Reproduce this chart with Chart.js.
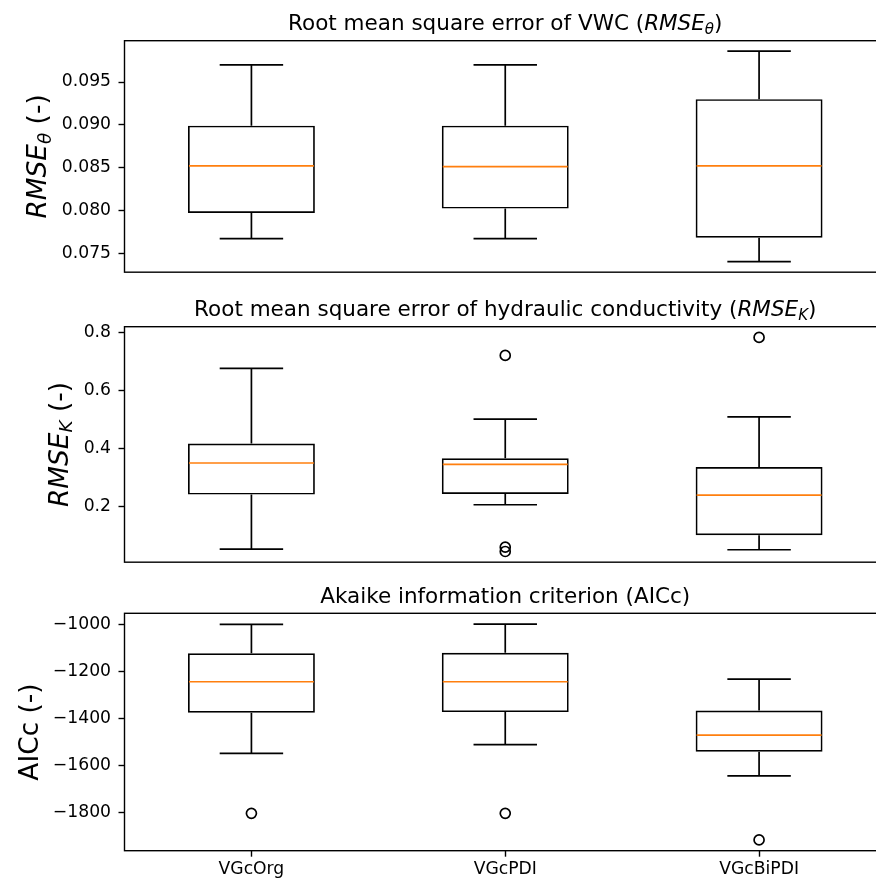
<!DOCTYPE html>
<html>
<head>
<meta charset="utf-8">
<script src="https://cdn.jsdelivr.net/npm/chart.js@4.4.1/dist/chart.umd.min.js"></script>
<style>
  html, body { margin: 0; padding: 0; background: #fff; overflow: hidden; width: 876px; height: 879px; }
  canvas { position: absolute; left: 0; }
</style>
</head>
<body>
<canvas id="c1" width="900" height="290" style="top:0"></canvas>
<canvas id="c2" width="900" height="290" style="top:290px"></canvas>
<canvas id="c3" width="900" height="299" style="top:580px"></canvas>
<script>
const models = ['VGcOrg', 'VGcPDI', 'VGcBiPDI'];

// RMSE of VWC
const thLow  = [0.0767, 0.0767, 0.0740];
const thQ1   = [0.0797, 0.0802, 0.0768];
const thMed  = [0.0852, 0.0851, 0.0852];
const thQ3   = [0.0899, 0.0899, 0.0930];
const thHigh = [0.0970, 0.0970, 0.0986];
const thOut  = [[], [], []];
const thTicks = [0.075, 0.080, 0.085, 0.090, 0.095];

// RMSE of hydraulic conductivity
const kLow  = [0.053, 0.206, 0.051];
const kQ1   = [0.241, 0.243, 0.101];
const kMed  = [0.350, 0.345, 0.239];
const kQ3   = [0.417, 0.366, 0.336];
const kHigh = [0.676, 0.501, 0.509];
const kOut  = [[], [0.721, 0.060, 0.045], [0.783]];
const kTicks = [0.2, 0.4, 0.6, 0.8];

// AICc
const aLow  = [-1548, -1511, -1644];
const aQ1   = [-1376, -1373, -1541];
const aMed  = [-1244, -1244, -1471];
const aQ3   = [-1123, -1121, -1366];
const aHigh = [-1000, -999, -1233];
const aOut  = [[-1803], [-1803], [-1916]];
const aTicks = [-1800, -1600, -1400, -1200, -1000];

const FONT = '"DejaVu Sans", sans-serif';
const TITLE_SIZE = 21.5;
const YLABEL_SIZE = 26.4;

function partFont(p, size) {
  const s = p.sub ? size * 0.7 : size;
  return (p.it ? 'italic ' : '') + s + 'px ' + FONT;
}
function partsWidth(ctx, parts, size) {
  let w = 0;
  parts.forEach(p => { ctx.font = partFont(p, size); w += ctx.measureText(p.t).width; });
  return w;
}
function drawParts(ctx, parts, size, x, y) {
  parts.forEach(p => {
    ctx.font = partFont(p, size);
    ctx.fillText(p.t, x, y + (p.sub ? size * 0.18 : 0));
    x += ctx.measureText(p.t).width;
  });
}

const boxPlugin = {
  id: 'boxparts',
  afterDatasetsDraw(chart, args, o) {
    const ctx = chart.ctx, xs = chart.scales.x, ys = chart.scales.y;
    const bars = chart.getDatasetMeta(0).data;
    ctx.save();
    ctx.lineWidth = 1.7;
    o.low.forEach((lo, i) => {
      const x = xs.getPixelForValue(i);
      const half = bars[i].width / 2;
      ctx.strokeStyle = '#000';
      ctx.beginPath();
      ctx.moveTo(x, ys.getPixelForValue(o.q1[i]));
      ctx.lineTo(x, ys.getPixelForValue(lo));
      ctx.moveTo(x, ys.getPixelForValue(o.q3[i]));
      ctx.lineTo(x, ys.getPixelForValue(o.high[i]));
      ctx.moveTo(x - half / 2, ys.getPixelForValue(lo));
      ctx.lineTo(x + half / 2, ys.getPixelForValue(lo));
      ctx.moveTo(x - half / 2, ys.getPixelForValue(o.high[i]));
      ctx.lineTo(x + half / 2, ys.getPixelForValue(o.high[i]));
      ctx.stroke();
      ctx.strokeStyle = '#ff7f0e';
      ctx.beginPath();
      ctx.moveTo(x - half + 1, ys.getPixelForValue(o.med[i]));
      ctx.lineTo(x + half - 1, ys.getPixelForValue(o.med[i]));
      ctx.stroke();
    });
    ctx.restore();
  },
  afterDraw(chart, args, o) {
    const ctx = chart.ctx, a = chart.chartArea;
    ctx.save();
    ctx.strokeStyle = '#000';
    ctx.lineWidth = 1.4;
    ctx.strokeRect(a.left, a.top, a.right - a.left, a.bottom - a.top);
    ctx.fillStyle = '#000';
    ctx.textBaseline = 'alphabetic';
    ctx.textAlign = 'left';
    const tw = partsWidth(ctx, o.title, TITLE_SIZE);
    drawParts(ctx, o.title, TITLE_SIZE, (a.left + a.right) / 2 - tw / 2, a.top - 10.8);
    const lw = partsWidth(ctx, o.ylabel, YLABEL_SIZE);
    ctx.translate(o.ylabelX, (a.top + a.bottom) / 2);
    ctx.rotate(-Math.PI / 2);
    drawParts(ctx, o.ylabel, YLABEL_SIZE, -lw / 2, 0);
    ctx.restore();
  }
};

function makePanel(id, d) {
  const all = d.low.concat(d.high, d.out.flat());
  const lo = Math.min(...all), hi = Math.max(...all);
  const m = (hi - lo) * 0.05;
  const outPts = [];
  d.out.forEach((arr, i) => arr.forEach(v => outPts.push({ x: models[i], y: v })));
  const tickFont = { family: FONT, size: 17.2 };
  return new Chart(document.getElementById(id), {
    type: 'bar',
    data: {
      labels: models,
      datasets: [{
        data: d.q1.map((q, i) => [q, d.q3[i]]),
        backgroundColor: 'rgba(255,255,255,0)',
        borderColor: '#000',
        borderWidth: 1.7,
        borderSkipped: false,
        barPercentage: 0.5,
        categoryPercentage: 1
      }, {
        type: 'line',
        data: outPts,
        showLine: false,
        pointRadius: 5,
        pointBorderWidth: 1.7,
        pointBorderColor: '#000',
        pointBackgroundColor: 'rgba(0,0,0,0)'
      }]
    },
    options: {
      responsive: false,
      animation: false,
      layout: { padding: d.pad },
      plugins: {
        legend: { display: false },
        tooltip: { enabled: false },
        boxparts: { low: d.low, q1: d.q1, med: d.med, q3: d.q3, high: d.high,
                    title: d.title, ylabel: d.ylabel, ylabelX: d.ylabelX }
      },
      scales: {
        x: {
          display: d.showX,
          offset: true,
          afterFit: s => { if (d.showX) s.height = 28.3; },
          ticks: { color: '#000', font: tickFont, padding: 3, maxRotation: 0 },
          grid: { offset: false, drawOnChartArea: false, tickLength: 6, tickColor: '#000', tickWidth: 1.4 },
          border: { display: false }
        },
        y: {
          min: lo - m,
          max: hi + m,
          afterFit: s => { s.width = 124.5; },
          afterBuildTicks: s => { s.ticks = d.ticks.map(v => ({ value: v })); },
          ticks: { color: '#000', font: tickFont, padding: 7.5, callback: d.fmt },
          grid: { drawOnChartArea: false, tickLength: 6, tickColor: '#000', tickWidth: 1.4 },
          border: { display: false }
        }
      }
    },
    plugins: [boxPlugin]
  });
}

makePanel('c1', {
  low: thLow, q1: thQ1, med: thMed, q3: thQ3, high: thHigh, out: thOut, ticks: thTicks,
  fmt: v => v.toFixed(3),
  pad: { top: 40.7, bottom: 12.3, left: 0, right: 14 },
  showX: false,
  title: [{ t: 'Root mean square error of VWC (' }, { t: 'RMSE', it: true }, { t: 'θ', it: true, sub: true }, { t: ')' }],
  ylabel: [{ t: 'RMSE', it: true }, { t: 'θ', it: true, sub: true }, { t: ' (-)' }],
  ylabelX: 46.2
});

makePanel('c2', {
  low: kLow, q1: kQ1, med: kMed, q3: kQ3, high: kHigh, out: kOut, ticks: kTicks,
  fmt: v => v.toFixed(1),
  pad: { top: 36.7, bottom: 15, left: 0, right: 14 },
  showX: false,
  title: [{ t: 'Root mean square error of hydraulic conductivity (' }, { t: 'RMSE', it: true }, { t: 'K', it: true, sub: true }, { t: ')' }],
  ylabel: [{ t: 'RMSE', it: true }, { t: 'K', it: true, sub: true }, { t: ' (-)' }],
  ylabelX: 67.5
});

makePanel('c3', {
  low: aLow, q1: aQ1, med: aMed, q3: aQ3, high: aHigh, out: aOut, ticks: aTicks,
  fmt: v => String(v).replace('-', '\u2212'),
  pad: { top: 33.3, bottom: 0, left: 0, right: 14 },
  showX: true,
  title: [{ t: 'Akaike information criterion (AICc)' }],
  ylabel: [{ t: 'AICc (-)' }],
  ylabelX: 38.3
});
</script>
</body>
</html>
